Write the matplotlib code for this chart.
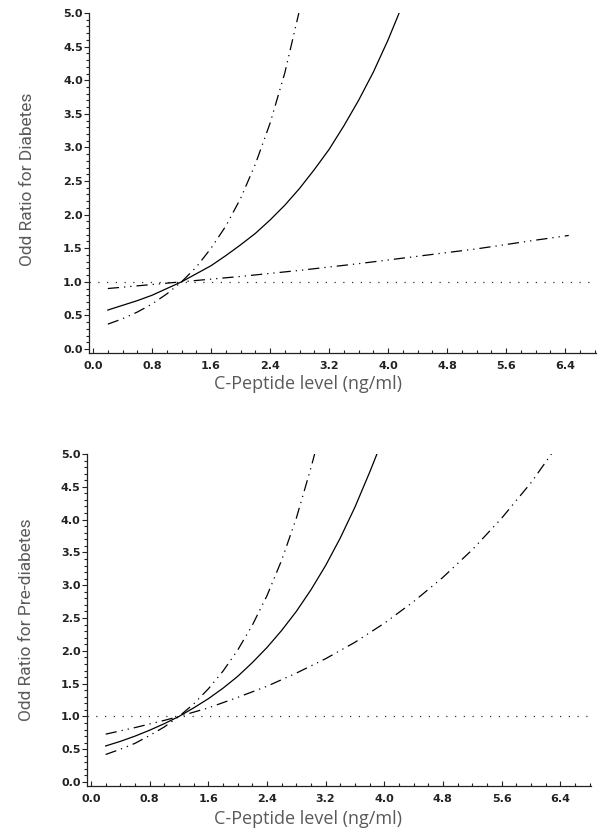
import matplotlib
matplotlib.use("Agg")
import matplotlib.pyplot as plt
from matplotlib.ticker import MultipleLocator, FormatStrFormatter

# top panel: diabetes
dia_x = [0.2, 0.4, 0.6, 0.8, 1.0, 1.2, 1.4, 1.6, 1.8, 2.0, 2.2, 2.4, 2.6, 2.8, 3.0, 3.2, 3.4, 3.6, 3.8, 4.0, 4.15]
dia_or = [0.58, 0.65, 0.72, 0.80, 0.90, 1.00, 1.12, 1.24, 1.39, 1.55, 1.72, 1.92, 2.14, 2.39, 2.67, 2.97, 3.32, 3.70, 4.12, 4.60, 5.00]
dia_up_x = [0.2, 0.4, 0.6, 0.8, 1.0, 1.2, 1.4, 1.6, 1.8, 2.0, 2.2, 2.4, 2.6, 2.79]
dia_up = [0.37, 0.45, 0.55, 0.67, 0.82, 1.00, 1.22, 1.50, 1.83, 2.24, 2.75, 3.36, 4.11, 5.00]
dia_lo_x = [0.2, 0.8, 1.2, 2.0, 2.8, 3.6, 4.4, 5.2, 6.0, 6.45]
dia_lo = [0.90, 0.96, 1.00, 1.08, 1.17, 1.27, 1.38, 1.49, 1.62, 1.69]

# bottom panel: pre-diabetes
pre_x = [0.2, 0.4, 0.6, 0.8, 1.0, 1.2, 1.4, 1.6, 1.8, 2.0, 2.2, 2.4, 2.6, 2.8, 3.0, 3.2, 3.4, 3.6, 3.8, 3.9]
pre_or = [0.55, 0.62, 0.70, 0.79, 0.89, 1.00, 1.13, 1.27, 1.43, 1.61, 1.82, 2.05, 2.31, 2.60, 2.93, 3.30, 3.72, 4.19, 4.72, 5.00]
pre_up_x = [0.2, 0.4, 0.6, 0.8, 1.0, 1.2, 1.4, 1.6, 1.8, 2.0, 2.2, 2.4, 2.6, 2.8, 3.0, 3.05]
pre_up = [0.42, 0.50, 0.59, 0.71, 0.84, 1.00, 1.19, 1.42, 1.69, 2.01, 2.39, 2.84, 3.38, 4.02, 4.79, 5.00]
pre_lo_x = [0.2, 0.6, 1.0, 1.2, 1.6, 2.0, 2.4, 2.8, 3.2, 3.6, 4.0, 4.4, 4.8, 5.2, 5.6, 6.0, 6.28]
pre_lo = [0.73, 0.83, 0.94, 1.00, 1.13, 1.29, 1.46, 1.66, 1.88, 2.13, 2.42, 2.75, 3.12, 3.54, 4.02, 4.56, 5.00]

x_label = "C-Peptide level (ng/ml)"
y_labels = ["Odd Ratio for Diabetes", "Odd Ratio for Pre-diabetes"]

CI_DASH = (0, (9, 4, 1, 4, 1, 4))
LABEL_GREY = "#5a5a5a"

fig = plt.figure(figsize=(6.04, 8.35), dpi=100)
ax_top = fig.add_axes([0.1474, 0.5772, 0.8394, 0.4072])
ax_bot = fig.add_axes([0.1440, 0.0587, 0.8345, 0.3976])

panels = [
    (ax_top, dia_x, dia_or, dia_up_x, dia_up, dia_lo_x, dia_lo, y_labels[0], (-0.122, 0.51), (0.432, -0.091)),
    (ax_bot, pre_x, pre_or, pre_up_x, pre_up, pre_lo_x, pre_lo, y_labels[1], (-0.119, 0.5), (0.438, -0.098)),
]

for ax, x, orr, ux, up, lx, lo, ylab, ypos, xpos in panels:
    ax.axhline(1.0, color="#333333", lw=0.9, linestyle=(0, (1, 6)))
    ax.plot(x, orr, color="black", lw=0.9)
    ax.plot(ux, up, color="black", lw=0.9, linestyle=CI_DASH)
    ax.plot(lx, lo, color="black", lw=0.9, linestyle=CI_DASH)

    ax.set_xlim(-0.055, 6.82)
    ax.set_ylim(-0.06, 5.0)
    for side in ("top", "right"):
        ax.spines[side].set_visible(False)
    for side in ("left", "bottom"):
        ax.spines[side].set_linewidth(0.9)
        ax.spines[side].set_color("#222222")

    ax.xaxis.set_major_locator(MultipleLocator(0.8))
    ax.xaxis.set_minor_locator(MultipleLocator(0.2))
    ax.yaxis.set_major_locator(MultipleLocator(0.5))
    ax.yaxis.set_minor_locator(MultipleLocator(0.1))
    ax.xaxis.set_major_formatter(FormatStrFormatter("%.1f"))
    ax.yaxis.set_major_formatter(FormatStrFormatter("%.1f"))

    ax.tick_params(axis="x", which="both", direction="in", color="#222222", width=0.8)
    ax.tick_params(axis="x", which="major", length=3.5, pad=6)
    ax.tick_params(axis="x", which="minor", length=2.5)
    ax.tick_params(axis="y", which="both", direction="out", color="#222222", width=0.8)
    ax.tick_params(axis="y", which="major", length=3.5, pad=1)
    ax.tick_params(axis="y", which="minor", length=2)
    for lab in ax.get_xticklabels() + ax.get_yticklabels():
        lab.set_fontfamily("DejaVu Sans")
        lab.set_fontweight("bold")
        lab.set_fontsize(8)
        lab.set_color("#222222")

    ax.set_ylabel(ylab, family=["Roboto", "DejaVu Sans"],
                  fontsize=12.5, color=LABEL_GREY, va="center")
    ax.yaxis.set_label_coords(*ypos)
    ax.set_xlabel(x_label, family=["Open Sans", "DejaVu Sans"], fontsize=13,
                  color=LABEL_GREY, va="center")
    ax.xaxis.set_label_coords(*xpos)

fig.savefig("out.png", dpi=100, facecolor="white")
